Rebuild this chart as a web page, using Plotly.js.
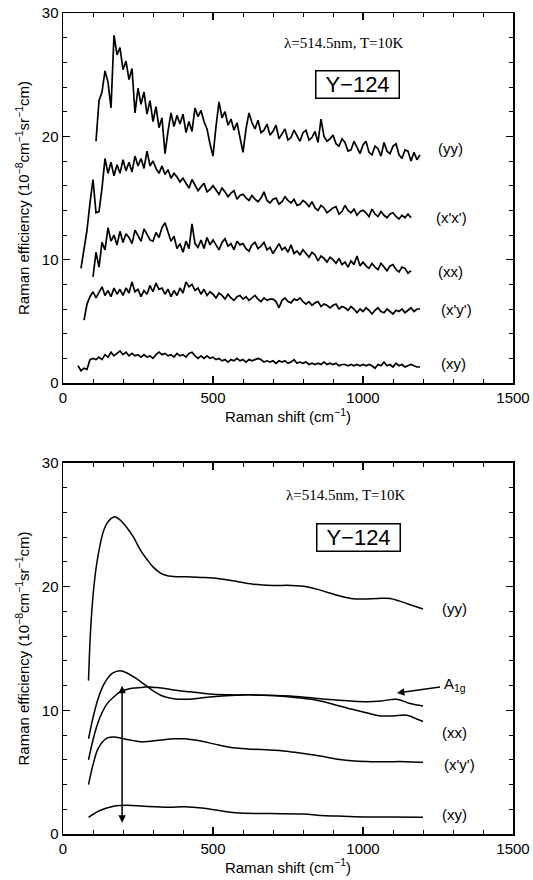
<!DOCTYPE html>
<html>
<head>
<meta charset="utf-8">
<script src="https://cdn.plot.ly/plotly-3.0.1.min.js"></script>
<style>html,body{margin:0;padding:0;background:#fff;}#chart{width:533px;height:880px;}</style>
</head>
<body>
<div id="chart"></div>
<script>
// ---------- Top panel: measured spectra (Raman shift, cm^-1) ----------
const shiftTop = [50,60,70,80,90,100,110,120,130,140,150,160,170,180,190,200,210,220,230,240,250,260,270,280,290,300,310,320,330,340,350,360,370,380,390,400,410,420,430,440,450,460,470,480,490,500,510,520,530,540,550,560,570,580,590,600,610,620,630,640,650,660,670,680,690,700,710,720,730,740,750,760,770,780,790,800,810,820,830,840,850,860,870,880,890,900,910,920,930,940,950,960,970,980,990,1000,1010,1020,1030,1040,1050,1060,1070,1080,1090,1100,1110,1120,1130,1140,1150,1160,1170,1180,1190,1200];

const yyTop = [null,null,null,null,null,null,
  19.6,22.9,23.6,25.3,24.4,22.3,28.2,26.6,27.2,
  25.4,26.1,24.6,25.5,21.9,23.9,22.6,23.6,21.8,22.9,
  21.2,22.4,20.7,21.5,18.6,20.4,21.9,20.8,21.7,21.0,
  21.8,20.3,21.2,20.4,22.3,21.6,22.1,21.2,20.6,19.4,
  18.4,20.8,22.8,21.5,22.0,20.9,21.4,20.5,21.1,19.9,
  18.7,20.6,21.9,21.1,20.6,21.3,20.3,20.5,21.0,20.1,
  20.4,20.9,19.8,20.2,20.6,19.7,19.9,20.5,20.1,19.6,
  20.3,20.5,19.7,19.9,20.4,19.5,21.4,20.0,19.6,19.8,
  20.1,19.4,19.2,19.8,19.5,18.8,18.9,19.6,19.1,18.6,
  19.3,19.6,18.7,18.5,19.2,19.0,18.4,19.5,18.8,18.6,
  19.2,19.4,18.5,18.2,18.9,18.8,18.0,18.7,18.1,18.5,
  null];

const xpxpTop = [null,
  9.3,10.8,12.4,14.6,
  16.5,13.8,13.9,15.8,18.2,17.0,17.9,16.8,17.7,17.0,
  18.1,17.2,17.9,17.1,18.4,17.6,18.2,17.4,18.8,17.6,
  18.0,17.4,17.0,17.6,16.9,17.3,16.6,17.0,16.7,16.3,
  16.6,16.2,15.8,16.5,16.1,15.6,15.9,16.2,15.5,15.7,
  16.0,15.6,15.3,15.8,15.5,15.1,15.4,15.6,14.9,15.2,
  15.3,15.0,14.8,15.2,14.9,14.7,15.0,15.5,14.8,14.6,
  14.9,15.0,14.5,14.7,15.1,14.8,14.6,14.9,14.4,14.5,
  14.8,14.6,14.3,14.7,14.2,14.0,14.4,14.2,13.8,14.0,
  14.2,14.3,13.7,13.9,14.4,14.0,13.8,14.1,13.6,13.9,
  14.0,13.8,13.5,14.1,13.7,13.5,13.9,13.6,13.4,13.7,
  13.8,13.5,13.3,13.6,13.4,13.7,13.4,
  null,null,null,null];

const xxTop = [null,null,null,null,null,
  8.6,10.6,9.4,11.4,10.8,12.6,11.5,12.0,11.2,12.3,
  11.4,12.1,11.8,11.3,12.4,11.9,11.5,12.5,12.1,11.6,
  11.5,12.2,11.8,12.6,13.0,12.2,11.5,11.9,10.9,11.3,
  10.6,11.5,10.9,12.9,11.3,11.0,11.6,10.9,11.8,11.2,
  11.6,11.2,10.8,11.4,11.7,11.1,11.3,10.8,11.5,11.2,
  11.3,10.9,10.7,11.2,11.4,10.9,11.1,11.4,10.8,11.0,
  10.5,10.9,11.3,10.8,11.0,10.6,11.2,10.5,10.7,10.4,
  10.8,10.5,10.2,10.6,10.4,9.9,10.3,10.1,9.8,10.2,
  10.0,9.7,10.1,9.6,9.8,9.4,9.9,9.6,10.3,9.5,
  9.8,9.5,9.3,9.7,9.4,9.2,9.7,9.4,9.1,9.5,
  9.6,9.2,9.0,9.4,9.3,8.9,9.1,
  null,null,null,null];

const xpypTop = [null,null,
  5.1,6.4,7.0,
  7.4,6.9,7.3,7.8,7.1,7.5,7.0,7.7,7.2,7.6,
  7.1,7.7,7.3,8.2,7.4,7.6,7.0,7.5,7.2,7.9,
  7.4,8.1,7.6,7.7,7.2,7.6,7.0,7.5,7.1,7.7,
  7.3,8.2,7.8,8.0,7.5,7.7,7.2,7.6,7.1,7.4,
  7.2,6.9,7.3,7.1,6.8,7.2,6.9,6.7,7.0,7.1,
  6.8,7.0,6.7,6.9,7.1,6.8,6.6,6.9,6.7,6.8,
  6.8,6.6,6.1,6.7,6.9,6.6,6.5,6.8,6.7,6.9,
  6.6,6.4,6.6,6.3,6.5,6.6,6.2,6.4,6.3,6.1,
  6.3,6.4,6.0,6.2,6.1,5.9,6.2,6.0,5.7,6.0,
  5.8,6.1,5.9,5.6,5.9,6.1,5.8,5.7,6.0,5.8,
  5.6,5.9,5.8,6.0,5.7,5.9,6.1,5.8,6.0,6.0,
  null];

const xyTop = [1.4,1.0,1.2,1.1,1.9,
  2.0,1.9,2.1,1.9,2.3,2.1,2.5,2.2,2.4,2.6,
  2.3,2.5,2.2,2.4,2.2,2.3,2.1,2.3,2.1,2.2,
  2.0,2.3,2.5,2.3,2.4,2.2,2.3,2.1,2.4,2.2,
  2.3,2.1,2.4,2.5,2.2,2.0,2.2,2.0,2.2,2.0,
  2.1,1.9,2.0,1.8,1.9,1.7,1.9,1.8,2.0,1.8,
  1.9,1.7,1.9,1.8,1.9,2.0,1.9,1.7,1.8,1.7,
  1.8,1.6,1.8,1.7,1.8,1.6,1.7,1.9,1.6,1.7,
  1.6,1.7,1.5,1.6,1.5,1.6,1.5,1.7,1.5,1.6,
  1.5,1.6,1.4,1.5,1.5,1.4,1.5,1.4,1.5,1.4,
  1.5,1.4,1.5,1.4,1.2,1.5,1.4,1.7,1.4,1.5,
  1.3,1.6,1.4,1.5,1.3,1.4,1.5,1.4,1.3,1.3,
  null];

// ---------- Bottom panel: fitted curves ----------
const yyFitX = [85,92,101,112,123,135,146,160,173,190,212,235,257,280,300,325,346,380,412,460,501,560,634,700,760,812,860,915,960,1000,1050,1090,1120,1150,1200];
const yyFitY = [12.4,16.5,19.5,21.8,23.3,24.5,25.1,25.5,25.65,25.4,24.8,24.0,23.0,22.2,21.6,21.1,20.9,20.8,20.8,20.75,20.7,20.5,20.2,20.1,20.1,20.0,19.7,19.3,19.05,19.0,19.05,19.05,18.85,18.6,18.2];

const xxFitX = [85,100,115,130,146,165,191,215,236,260,282,305,327,355,383,420,460,500,560,620,700,790,850,900,960,1012,1057,1100,1146,1179,1200];
const xxFitY = [7.7,9.4,10.8,11.8,12.5,13.0,13.2,13.0,12.7,12.3,11.9,11.5,11.2,11.0,10.9,10.9,11.0,11.1,11.2,11.25,11.2,11.0,10.8,10.5,10.1,9.8,9.55,9.55,9.6,9.3,9.1];

const a1gFitX = [85,100,115,130,146,170,191,215,236,260,282,305,327,355,383,420,460,500,560,620,700,790,850,900,960,1012,1060,1112,1157,1200];
const a1gFitY = [6.0,7.6,8.9,9.8,10.5,11.1,11.5,11.7,11.8,11.85,11.9,11.85,11.8,11.7,11.6,11.5,11.4,11.3,11.25,11.25,11.2,11.1,10.95,10.85,10.75,10.7,10.75,10.9,10.55,10.35];

const xpypFitX = [85,100,115,130,146,169,202,235,259,290,327,370,406,440,463,519,576,632,689,745,802,858,915,972,1028,1085,1140,1200];
const xpypFitY = [4.0,5.6,6.8,7.4,7.75,7.85,7.7,7.55,7.45,7.5,7.6,7.7,7.7,7.6,7.5,7.2,6.95,6.85,6.8,6.7,6.5,6.3,6.05,5.9,5.85,5.85,5.85,5.8];

const xyFitX = [85,123,169,214,270,350,406,463,519,576,689,802,858,915,972,1085,1200];
const xyFitY = [1.35,1.9,2.25,2.33,2.25,2.17,2.2,2.1,1.9,1.72,1.65,1.62,1.5,1.45,1.4,1.37,1.35];

// ---------- Labels ----------
const polLabels = ['(yy)', "(x'x')", '(xx)', "(x'y')", '(xy)'];
const polLabelsBottom = ['(yy)', '(xx)', "(x'y')", '(xy)'];
const condText = 'λ=514.5nm, T=10K';
const sampleText = 'Y−124';
const xTitle = 'Raman shift (cm<sup>−1</sup>)';
const yTitle = 'Raman efficiency (10<sup>−8</sup>cm<sup>−1</sup>sr<sup>−1</sup>cm)';

const sans = 'Liberation Sans, Arial, Helvetica, sans-serif';
const serif = 'Liberation Serif, Times New Roman, serif';
const lineStyle = {color: '#000', width: 1.7};

const traces = [];
[yyTop, xpxpTop, xxTop, xpypTop, xyTop].forEach((ys, i) => {
  traces.push({x: shiftTop, y: ys, type: 'scatter', mode: 'lines', line: lineStyle,
    connectgaps: false, xaxis: 'x', yaxis: 'y', name: polLabels[i], showlegend: false, hoverinfo: 'skip'});
});
[[yyFitX, yyFitY], [xxFitX, xxFitY], [a1gFitX, a1gFitY], [xpypFitX, xpypFitY], [xyFitX, xyFitY]].forEach((p) => {
  traces.push({x: p[0], y: p[1], type: 'scatter', mode: 'lines',
    line: {color: '#000', width: 1.5, shape: 'spline', smoothing: 1},
    xaxis: 'x2', yaxis: 'y2', showlegend: false, hoverinfo: 'skip'});
});

function xAxis(domainAnchor) {
  return {
    range: [0, 1500], dtick: 500, tick0: 0, ticks: 'inside', ticklen: 7, tickwidth: 1.2,
    tickcolor: '#000', showline: true, linecolor: '#000', linewidth: 1.5, mirror: 'ticks',
    showgrid: false, zeroline: false, anchor: domainAnchor,
    minor: {dtick: 100, ticks: 'inside', ticklen: 4, tickwidth: 1, tickcolor: '#000', showgrid: false},
    tickfont: {family: sans, size: 15, color: '#000'},
    title: {text: xTitle, font: {family: sans, size: 15, color: '#000'}, standoff: 6}
  };
}
function yAxis(domain, anchor) {
  return {
    domain: domain, range: [0, 30], dtick: 10, tick0: 0, ticks: 'inside', ticklen: 7, tickwidth: 1.2,
    tickcolor: '#000', showline: true, linecolor: '#000', linewidth: 1.5, mirror: 'ticks',
    showgrid: false, zeroline: false, anchor: anchor,
    minor: {dtick: 2, ticks: 'inside', ticklen: 4, tickwidth: 1, tickcolor: '#000', showgrid: false},
    tickfont: {family: sans, size: 15, color: '#000'},
    title: {text: yTitle, font: {family: sans, size: 15, color: '#000'}, standoff: 8}
  };
}

const annotations = [];
const topLabelPos = [[1290, 19.05], [1296, 13.4], [1290, 9.05], [1313, 5.95], [1302, 1.57]];
polLabels.forEach((t, i) => {
  annotations.push({xref: 'x', yref: 'y', x: topLabelPos[i][0], y: topLabelPos[i][1], text: t,
    showarrow: false, font: {family: sans, size: 15, color: '#000'}});
});
const botLabelPos = [[1305, 18.2], [1305, 8.2], [1322, 5.6], [1305, 1.6]];
polLabelsBottom.forEach((t, i) => {
  annotations.push({xref: 'x2', yref: 'y2', x: botLabelPos[i][0], y: botLabelPos[i][1], text: t,
    showarrow: false, font: {family: sans, size: 15, color: '#000'}});
});
[['x', 'y', 935, 27.6, 980, 24.2], ['x2', 'y2', 943, 27.45, 985, 24.0]].forEach((a) => {
  annotations.push({xref: a[0], yref: a[1], x: a[2], y: a[3], text: condText, showarrow: false,
    font: {family: serif, size: 15, color: '#000'}});
  annotations.push({xref: a[0], yref: a[1], x: a[4], y: a[5], text: sampleText, showarrow: false,
    font: {family: sans, size: 22, color: '#000'}, bordercolor: '#000', borderwidth: 1.5,
    borderpad: 1, width: 80, height: 24, bgcolor: '#fff'});
});
// double-headed vertical arrow
annotations.push({xref: 'x2', yref: 'y2', axref: 'x2', ayref: 'y2', x: 197, y: 0.9, ax: 197, ay: 12.1,
  text: '', showarrow: true, arrowhead: 2, startarrowhead: 2, arrowside: 'end+start',
  arrowsize: 1, startarrowsize: 1, arrowwidth: 1.5, arrowcolor: '#000'});
// A1g label with arrow
annotations.push({xref: 'x2', yref: 'y2', axref: 'x2', ayref: 'y2', x: 1113, y: 11.4, ax: 1305, ay: 12.05,
  text: 'A<sub>1g</sub>', showarrow: true, arrowhead: 2, arrowsize: 1, arrowwidth: 1.5, arrowcolor: '#000',
  standoff: 0, startstandoff: 2, font: {family: sans, size: 15, color: '#000'}});

const layout = {
  width: 533, height: 880,
  margin: {l: 63, r: 20, t: 13, b: 46},
  paper_bgcolor: '#fff', plot_bgcolor: '#fff',
  font: {family: sans, color: '#000'},
  showlegend: false,
  xaxis: xAxis('y'),
  yaxis: yAxis([0.5493, 1], 'x'),
  xaxis2: xAxis('y2'),
  yaxis2: yAxis([0, 0.4519], 'x2'),
  annotations: annotations
};

Plotly.newPlot('chart', traces, layout, {staticPlot: true, displayModeBar: false});
</script>
</body>
</html>
